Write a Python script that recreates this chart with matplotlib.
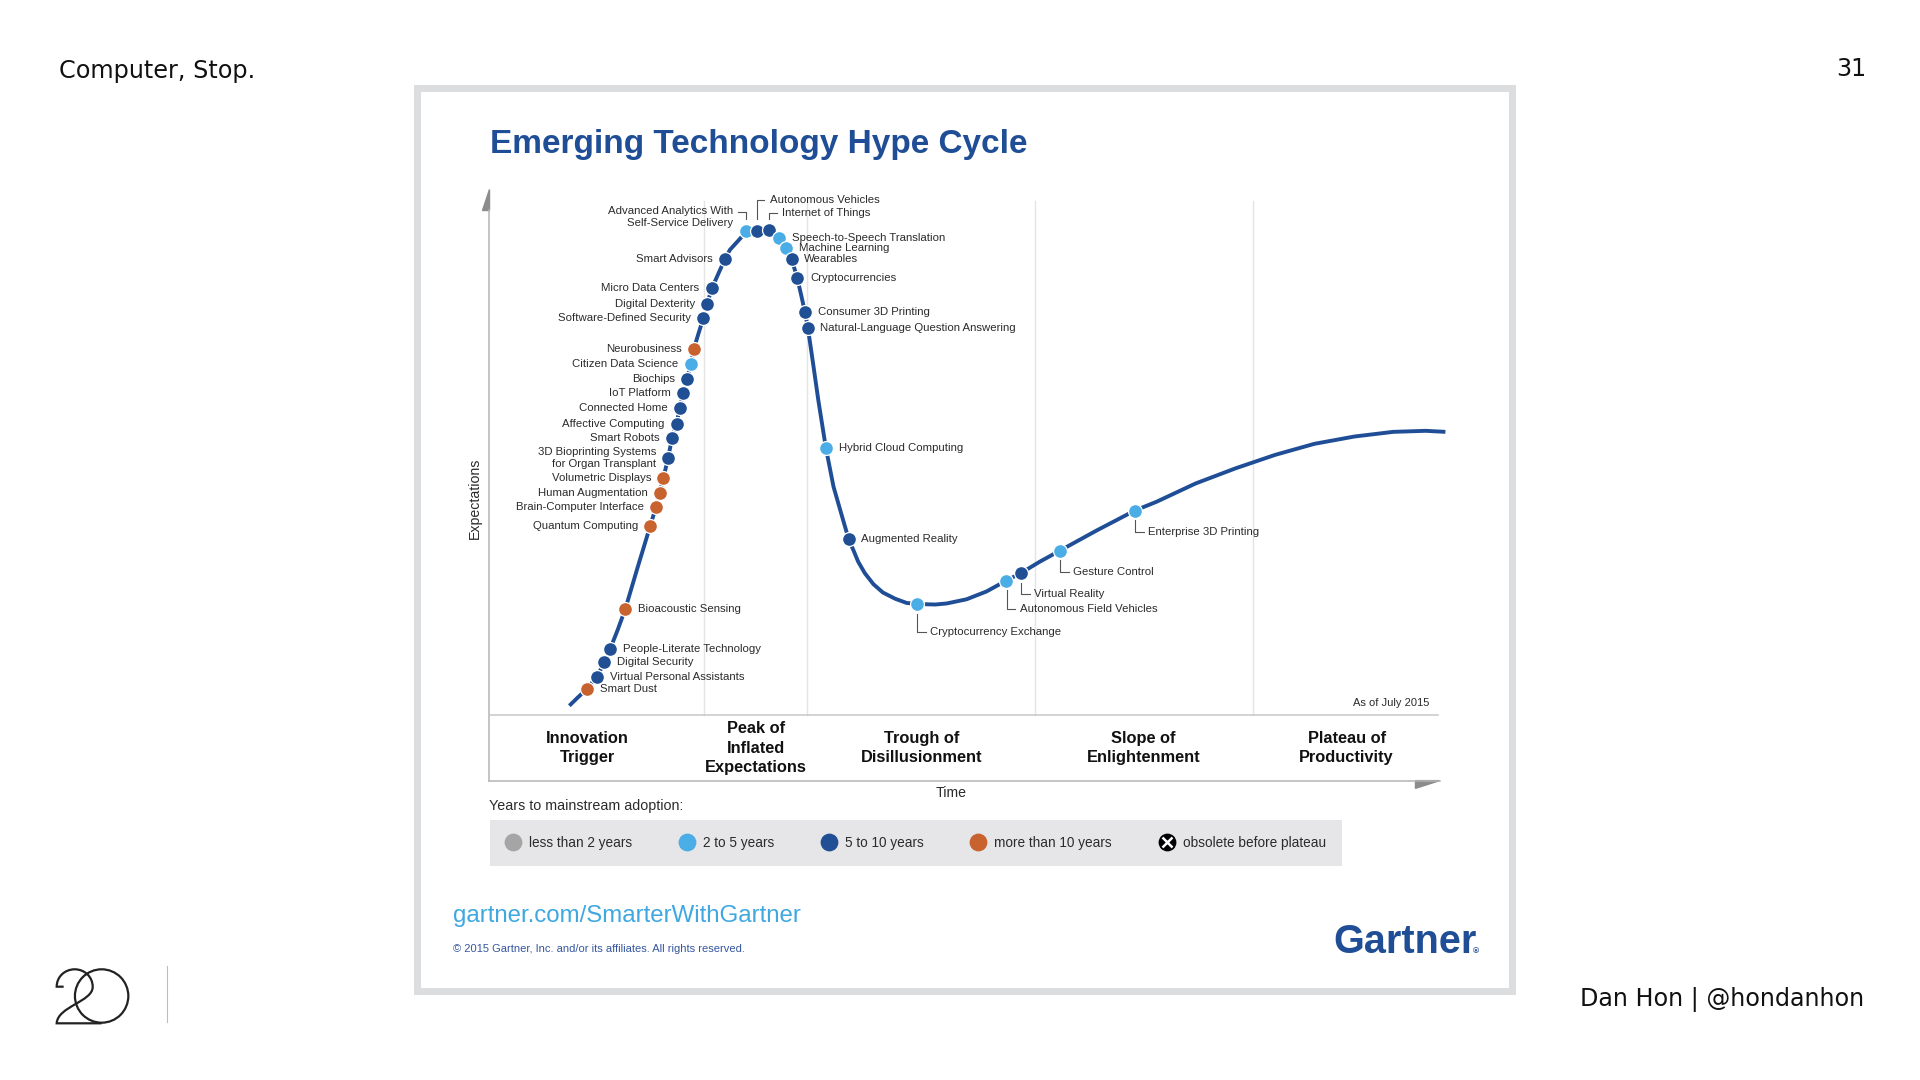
import matplotlib
matplotlib.use("Agg")
import matplotlib.pyplot as plt
import matplotlib.transforms as mtransforms
from matplotlib.lines import Line2D
from matplotlib.patches import Rectangle, Circle, Polygon, PathPatch
from matplotlib.path import Path

plt.rcParams['font.family'] = ['Liberation Sans', 'DejaVu Sans']

# years to mainstream adoption
categories = ["less than 2 years", "2 to 5 years", "5 to 10 years",
              "more than 10 years", "obsolete before plateau"]
cat_colors = ["#a5a5a5", "#4aade6", "#204f94", "#c8622e", "#000000"]

# technologies along the curve (time, expectations, category index)
tech_names = [
    "Smart Dust", "Virtual Personal Assistants", "Digital Security",
    "People-Literate Technology", "Bioacoustic Sensing", "Quantum Computing",
    "Brain-Computer Interface", "Human Augmentation", "Volumetric Displays",
    "3D Bioprinting Systems\nfor Organ Transplant", "Smart Robots",
    "Affective Computing", "Connected Home", "IoT Platform", "Biochips",
    "Citizen Data Science", "Neurobusiness", "Software-Defined Security",
    "Digital Dexterity", "Micro Data Centers", "Smart Advisors",
    "Advanced Analytics With\nSelf-Service Delivery", "Autonomous Vehicles",
    "Internet of Things", "Speech-to-Speech Translation", "Machine Learning",
    "Wearables", "Cryptocurrencies", "Consumer 3D Printing",
    "Natural-Language Question Answering", "Hybrid Cloud Computing",
    "Augmented Reality", "Cryptocurrency Exchange", "Autonomous Field Vehicles",
    "Virtual Reality", "Gesture Control", "Enterprise 3D Printing",
]
tech_time = [10.4, 11.4, 12.2, 12.8, 14.4, 17.0, 17.6, 18.0, 18.4, 18.9, 19.3,
             19.8, 20.1, 20.5, 20.9, 21.3, 21.6, 22.6, 23.0, 23.5, 24.9, 27.1,
             28.2, 29.5, 30.6, 31.3, 31.9, 32.5, 33.3, 33.6, 35.5, 37.9, 45.1,
             54.5, 56.0, 60.1, 68.0]
tech_expect = [5.1, 7.4, 10.1, 12.7, 20.4, 36.2, 39.8, 42.5, 45.5, 49.3, 53.1,
               55.9, 58.8, 61.7, 64.5, 67.4, 70.2, 76.1, 78.9, 81.8, 87.5, 92.9,
               92.9, 93.0, 91.5, 89.5, 87.4, 83.7, 77.2, 74.3, 51.2, 33.7, 21.3,
               25.8, 27.2, 31.5, 39.2]
tech_cat = [3, 2, 2, 2, 3, 3, 3, 3, 3, 2, 2,
            2, 2, 2, 2, 1, 3, 2, 2, 2, 2, 1,
            2, 2, 1, 1, 2, 2, 2, 2, 1, 2, 1,
            1, 2, 1, 1]

# the hype curve
curve_time = [8.5, 9.4, 10.4, 11.4, 12.2, 12.8, 13.6, 14.4, 15.7, 17.0, 17.6,
              18.0, 18.4, 18.9, 19.3, 19.8, 20.1, 20.5, 20.9, 21.3, 21.6, 22.1,
              22.6, 23.0, 23.5, 24.2, 24.9, 25.4, 26.0, 26.5, 27.1, 27.6, 28.2,
              28.9, 29.5, 30.0, 30.6, 31.3, 31.9, 32.5, 32.9, 33.3, 33.6, 34.2,
              34.7, 35.5, 36.3, 37.2, 37.9, 38.4, 38.9, 39.6, 40.5, 41.5, 42.8,
              44.0, 45.1, 47.0, 48.2, 50.3, 52.4, 54.5, 56.0, 58.0, 60.1, 64.0,
              68.0, 70.3, 74.4, 78.6, 82.8, 86.9, 91.1, 95.2, 98.6, 100.7]
curve_expect = [1.8, 3.4, 5.1, 7.4, 10.1, 12.7, 16.4, 20.4, 28.4, 36.2, 39.8,
                42.5, 45.5, 49.3, 53.1, 55.9, 58.8, 61.7, 64.5, 67.4, 70.2, 73.2,
                76.1, 78.9, 81.8, 84.7, 87.5, 89.2, 90.4, 91.4, 92.7, 93.0, 93.1,
                93.1, 92.9, 92.3, 91.5, 89.5, 87.4, 83.7, 80.5, 77.2, 74.3, 66.8,
                60.4, 51.2, 43.8, 38.1, 33.7, 31.6, 29.4, 27.2, 25.1, 23.5, 22.3,
                21.5, 21.3, 21.2, 21.4, 22.2, 23.7, 25.8, 27.2, 29.4, 31.5, 35.4,
                39.2, 40.9, 44.4, 47.3, 49.9, 52.0, 53.4, 54.3, 54.5, 54.3]

phase_names = ["Innovation\nTrigger", "Peak of\nInflated\nExpectations",
               "Trough of\nDisillusionment", "Slope of\nEnlightenment",
               "Plateau of\nProductivity"]
phase_centers = [10.4, 28.1, 45.6, 68.9, 90.3]
phase_edges = [22.7, 33.5, 57.5, 80.4]

# where each label sits relative to its dot (shown px, y down)
left_labels = ["Quantum Computing", "Brain-Computer Interface", "Human Augmentation",
               "Volumetric Displays", "3D Bioprinting Systems\nfor Organ Transplant",
               "Smart Robots", "Affective Computing", "Connected Home", "IoT Platform",
               "Biochips", "Citizen Data Science", "Neurobusiness",
               "Software-Defined Security", "Digital Dexterity", "Micro Data Centers",
               "Smart Advisors"]
leader_up_right = {"Autonomous Vehicles": -25.1, "Internet of Things": -14.2}
leader_up_left = {"Advanced Analytics With\nSelf-Service Delivery": -15.5}
leader_down_right = {"Cryptocurrency Exchange": 22.5, "Autonomous Field Vehicles": 23.2,
                     "Virtual Reality": 17.2, "Gesture Control": 17.2,
                     "Enterprise 3D Printing": 17.2}

S = 1920 / 1568
BLUE = "#1f4e96"
TXT = "#2b2b2b"

fig = plt.figure(figsize=(19.2, 10.8), dpi=100)
fig.patch.set_facecolor("white")

# background in shown-pixel coordinates
bg = fig.add_axes([0, 0, 1, 1])
bg.set_xlim(0, 1568)
bg.set_ylim(882, 0)
bg.axis("off")

bg.add_patch(Rectangle((340.9, 71.9), 894.2, 737.2, facecolor="white",
                       edgecolor="#dcdddf", lw=5.0))

slide_font = ["DejaVu Sans"]
bg.text(48, 58, "Computer, Stop.", fontsize=17.2, family=slide_font, color="#111111",
        ha="left", va="center")
bg.text(1524, 56, "31", fontsize=17.2, family=slide_font, color="#111111",
        ha="right", va="center")
bg.text(1522, 816, "Dan Hon | @hondanhon", fontsize=17.2, family=slide_font,
        color="#111111", ha="right", va="center")

# "20" logo
bg.add_patch(Circle((83, 813.4), 21.8, fill=False, ec="#222222", lw=1.6))
two = Path([(52, 805.8), (46.3, 805.8), (46.3, 797.6), (53, 791.6), (61, 791.6),
            (69, 791.6), (75.7, 797.6), (75.7, 806), (75.7, 818), (47, 822),
            (46.3, 835.7), (83, 835.7)],
           [Path.MOVETO, Path.LINETO, Path.CURVE4, Path.CURVE4, Path.CURVE4,
            Path.CURVE4, Path.CURVE4, Path.CURVE4, Path.CURVE4, Path.CURVE4,
            Path.CURVE4, Path.LINETO])
bg.add_patch(PathPatch(two, fill=False, ec="#222222", lw=1.6))
bg.plot([136.7, 136.7], [789, 835], color="#bdbdbd", lw=0.8)

bg.text(400, 118, "Emerging Technology Hype Cycle", fontsize=24, fontweight="bold",
        color=BLUE, ha="left", va="center")
bg.text(399, 658, "Years to mainstream adoption:", fontsize=10.3, color=TXT,
        ha="left", va="center")
bg.add_patch(Rectangle((400, 670), 696, 37, facecolor="#e6e6e8", edgecolor="none"))
bg.text(370, 748, "gartner.com/SmarterWithGartner", fontsize=17.3, color="#3fa8e0",
        ha="left", va="center")
bg.text(370, 775, "\u00a9 2015 Gartner, Inc. and/or its affiliates. All rights reserved.",
        fontsize=8.0, color="#3556a0", ha="left", va="center")
bg.text(1089, 769, "Gartner", fontsize=28.5, fontweight="bold", color=BLUE,
        ha="left", va="center")
bg.text(1203, 777, "\u00ae", fontsize=6, fontweight="bold", color=BLUE,
        ha="left", va="center")

# chart axes: time 0..100, expectations 0..100 (phase band below zero)
ax = fig.add_axes([399 / 1568, 1 - 644.5 / 882, 776 / 1568, (644.5 - 153.74) / 882])
ax.set_xlim(0, 100)
ax.set_ylim(-14.2, 101)
ax.axis("off")

AX_GRAY = "#b4b4b4"
ax.plot([0, 0], [-12.56, 96.8], color=AX_GRAY, lw=1.1, clip_on=False)
ax.add_patch(Polygon([(0, 100.8), (0, 96.8), (-0.7, 96.8)], closed=True,
                     color="#8c8c8c", clip_on=False))
ax.plot([0, 99.9], [0, 0], color="#c8c8c8", lw=1.1, clip_on=False)
ax.plot([0, 100.1], [-12.56, -12.56], color=AX_GRAY, lw=1.1, clip_on=False)
ax.add_patch(Polygon([(97.55, -12.56), (100.09, -12.56), (97.55, -14.04)], closed=True,
                     color="#8c8c8c", clip_on=False))
for x in phase_edges:
    ax.plot([x, x], [0, 98.6], color="#e4e4e4", lw=1.0, zorder=0)

for name, c in zip(phase_names, phase_centers):
    ax.text(c, -6.34, name, ha="center", va="center", fontsize=11.8,
            fontweight="bold", color="#111111", linespacing=1.38)

ax.text(99.0, 2.25, "As of July 2015", ha="right", va="center", fontsize=8, color=TXT)
ax.text(48.7, -15.0, "Time", ha="center", va="center", fontsize=10.2, color=TXT)
ax.text(-1.4, 41.5, "Expectations", ha="center", va="center", rotation=90,
        fontsize=10.2, color=TXT)

ax.plot(curve_time, curve_expect, color=BLUE, lw=2.8, solid_joinstyle="round",
        solid_capstyle="butt", clip_on=False, zorder=2)

for t, e, k in zip(tech_time, tech_expect, tech_cat):
    ax.plot(t, e, "o", ms=10, mfc=cat_colors[k], mec="white", mew=0.9,
            zorder=3, clip_on=False)


def leader(t, e, pts):
    tr = mtransforms.Affine2D().scale(S, -S) + mtransforms.ScaledTranslation(t, e, ax.transData)
    xs = [p[0] for p in pts]
    ys = [p[1] for p in pts]
    ax.plot(xs, ys, transform=tr, color="#555555", lw=0.8, clip_on=False, zorder=2)


K = S * 72 / fig.dpi  # shown px -> points
lab = dict(fontsize=8.2, color=TXT, va="center", linespacing=1.25,
           textcoords="offset points", annotation_clip=False)
for name, t, e in zip(tech_names, tech_time, tech_expect):
    if name in left_labels:
        ax.annotate(name, (t, e), xytext=(-10 * K, 0), ha="right",
                    multialignment="right", **lab)
    elif name in leader_up_left:
        dy = leader_up_left[name]
        leader(t, e, [(-6.3, dy), (0, dy), (0, -9.4)])
        ax.annotate(name, (t, e), xytext=(-10.5 * K, 10.8 * K), ha="right",
                    multialignment="right", **lab)
    elif name in leader_up_right:
        dy = leader_up_right[name]
        leader(t, e, [(0, -9.2), (0, dy), (6.4, dy)])
        ax.annotate(name, (t, e), xytext=(10.8 * K, -dy * K), ha="left", **lab)
    elif name in leader_down_right:
        dy = leader_down_right[name]
        leader(t, e, [(0.3, 7.8), (0.3, dy), (7.3, dy)])
        ax.annotate(name, (t, e), xytext=(10.8 * K, -dy * K), ha="left", **lab)
    else:
        ax.annotate(name, (t, e), xytext=(10.3 * K, 0), ha="left", **lab)

# legend
handles = []
for name, col in zip(categories, cat_colors):
    if name == "obsolete before plateau":
        h = (Line2D([], [], ls="none", marker="o", ms=11.8, mfc=col, mec=col),
             Line2D([], [], ls="none", marker="x", ms=6.5, mec="white", mew=1.8))
    else:
        h = Line2D([], [], ls="none", marker="o", ms=11.8, mfc=col, mec=col)
    handles.append(h)
fig.legend(handles, categories, loc="center", ncol=5, mode="expand",
           bbox_to_anchor=(400 / 1568, 1 - 707 / 882, 696 / 1568, 37 / 882),
           frameon=False, borderaxespad=0, borderpad=1.2, handlelength=1.0,
           handletextpad=0.65, labelcolor=TXT,
           prop={"family": "Liberation Sans", "size": 9.8})

fig.savefig("out.png", dpi=100, facecolor="white")
